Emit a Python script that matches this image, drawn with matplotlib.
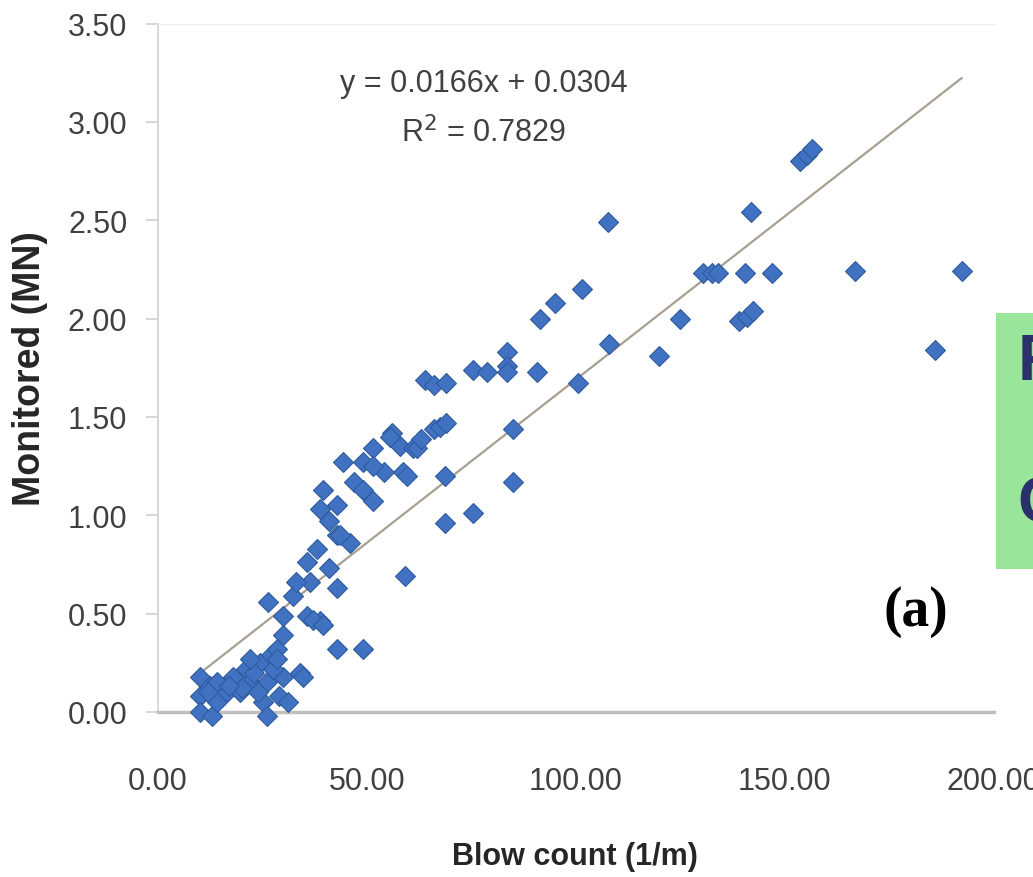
import matplotlib
matplotlib.use("Agg")
import matplotlib.pyplot as plt
from matplotlib.patches import Rectangle

# blow count (1/m) vs monitored resistance (MN)
blow_count = [
    10, 10, 10, 12.4, 13, 14, 14, 16.5, 18, 19.6, 21, 22, 24.4, 25, 26, 26, 27, 29,
    30, 31, 34, 28.5, 30, 20, 23, 17, 27.5, 24, 12, 34.7, 22, 28.5,
    32.3, 26.3, 30, 35.6, 38.8, 35.6, 36.4, 33, 38, 41, 42.8, 42.8, 46, 41, 38.8,
    39.5, 44.3, 42.8, 43.5, 47, 49, 51.4, 49, 51.4, 54, 51.4, 56, 58, 55.5, 58.6,
    59.6, 61, 62, 63, 66, 67.5, 69, 68.7, 59, 42.8, 49, 37, 39.5,
    63.9, 66, 69, 75.4, 78.7, 83.5, 83.5, 83.5, 90.7, 100.5, 108, 85, 85, 75.4,
    68.7, 91.4, 95, 101.4, 107.7,
    120, 125, 130.4, 132.5, 134, 140.4, 147, 139, 141, 142.5, 142, 153.6, 155.3,
    156.5, 166.7, 192.3, 186,
]
monitored = [
    0.18, 0.08, 0.00, 0.13, -0.02, 0.15, 0.05, 0.10, 0.18, 0.10, 0.22, 0.15, 0.25, 0.05, 0.15, -0.02, 0.29, 0.08,
    0.18, 0.05, 0.20, 0.32, 0.39, 0.12, 0.20, 0.13, 0.22, 0.10, 0.10, 0.18, 0.27, 0.27,
    0.59, 0.56, 0.49, 0.49, 0.46, 0.76, 0.66, 0.66, 0.83, 0.73, 0.63, 0.90, 0.86, 0.97, 1.03,
    1.13, 1.27, 1.05, 0.90, 1.17, 1.13, 1.07, 1.27, 1.34, 1.22, 1.25, 1.42, 1.35, 1.40, 1.22,
    1.20, 1.34, 1.34, 1.39, 1.44, 1.45, 1.47, 1.20, 0.69, 0.32, 0.32, 0.47, 0.44,
    1.69, 1.66, 1.67, 1.74, 1.73, 1.83, 1.76, 1.73, 1.73, 1.67, 1.87, 1.44, 1.17, 1.01,
    0.96, 2.00, 2.08, 2.15, 2.49,
    1.81, 2.00, 2.23, 2.23, 2.23, 2.23, 2.23, 1.99, 2.01, 2.04, 2.54, 2.80, 2.83,
    2.86, 2.24, 2.24, 1.84,
]

slope = 0.0166
intercept = 0.0304
r_squared = 0.7829

x_ticks = [0, 50, 100, 150, 200]
y_ticks = [0, 0.5, 1.0, 1.5, 2.0, 2.5, 3.0, 3.5]

plt.rcParams["font.family"] = ["Liberation Sans", "DejaVu Sans"]

fig = plt.figure(figsize=(10.33, 8.78), dpi=100)
ax = fig.add_axes([0.153, 0.188, 0.809, 0.784])

# trendline
x0, x1 = min(blow_count), max(blow_count)
ax.plot([x0, x1], [slope * x0 + intercept, slope * x1 + intercept],
        color="#a89f91", lw=1.6, zorder=2)

ax.plot(blow_count, monitored, linestyle="none", marker="D", ms=10,
        mfc="#4172c2", mec="#2e5a9c", mew=0.8, clip_on=False, zorder=3)

ax.set_xlim(0, 200)
ax.set_ylim(0, 3.5)
ax.set_xticks(x_ticks)
ax.set_xticklabels([f"{v:.2f}" for v in x_ticks])
ax.set_yticks(y_ticks)
ax.set_yticklabels([f"{v:.2f}" for v in y_ticks])
ax.tick_params(axis="x", length=0, pad=39, labelsize=22, labelcolor="#404040")
ax.tick_params(axis="y", length=9, width=1.2, color="#d0d0d0", pad=13,
               labelsize=22, labelcolor="#404040")

ax.spines["right"].set_visible(False)
ax.spines["top"].set_color("#eeeeee")
ax.spines["left"].set_color("#d9d9d9")
ax.spines["left"].set_linewidth(1.5)
ax.spines["bottom"].set_color("#bfbfbf")
ax.spines["bottom"].set_linewidth(2.5)

ax.set_xlabel("Blow count (1/m)", fontsize=22, fontweight="bold",
              color="#262626", va="center")
ax.xaxis.set_label_coords(0.499, -0.209)
ax.set_ylabel("Monitored (MN)", fontsize=27, fontweight="bold",
              color="#262626", va="center")
ax.yaxis.set_label_coords(-0.153, 0.5)

ax.text(0.39, 0.913, f"y = {slope}x + {intercept}", transform=ax.transAxes,
        ha="center", va="center", fontsize=22, color="#404040")
ax.text(0.39, 0.843, f"R$^2$ = {r_squared}", transform=ax.transAxes,
        ha="center", va="center", fontsize=22, color="#404040")

ax.text(0.907, 0.147, "(a)", transform=ax.transAxes, ha="center", va="center",
        fontsize=40, fontweight="bold", family="Liberation Serif", color="black")

# green box cut off at the right edge
fig.patches.append(Rectangle((0.964, 0.351), 0.05, 0.291, transform=fig.transFigure,
                             facecolor="#99e599", edgecolor="none"))
fig.text(0.9855, 0.5866, "F", ha="left", va="center", fontsize=47,
         fontweight="bold", family="Liberation Sans", color="#2b2f6b")
fig.text(0.9845, 0.4248, "C", ha="left", va="center", fontsize=47,
         fontweight="bold", family="Liberation Sans", color="#2b2f6b")

fig.savefig("out.png", dpi=100)
